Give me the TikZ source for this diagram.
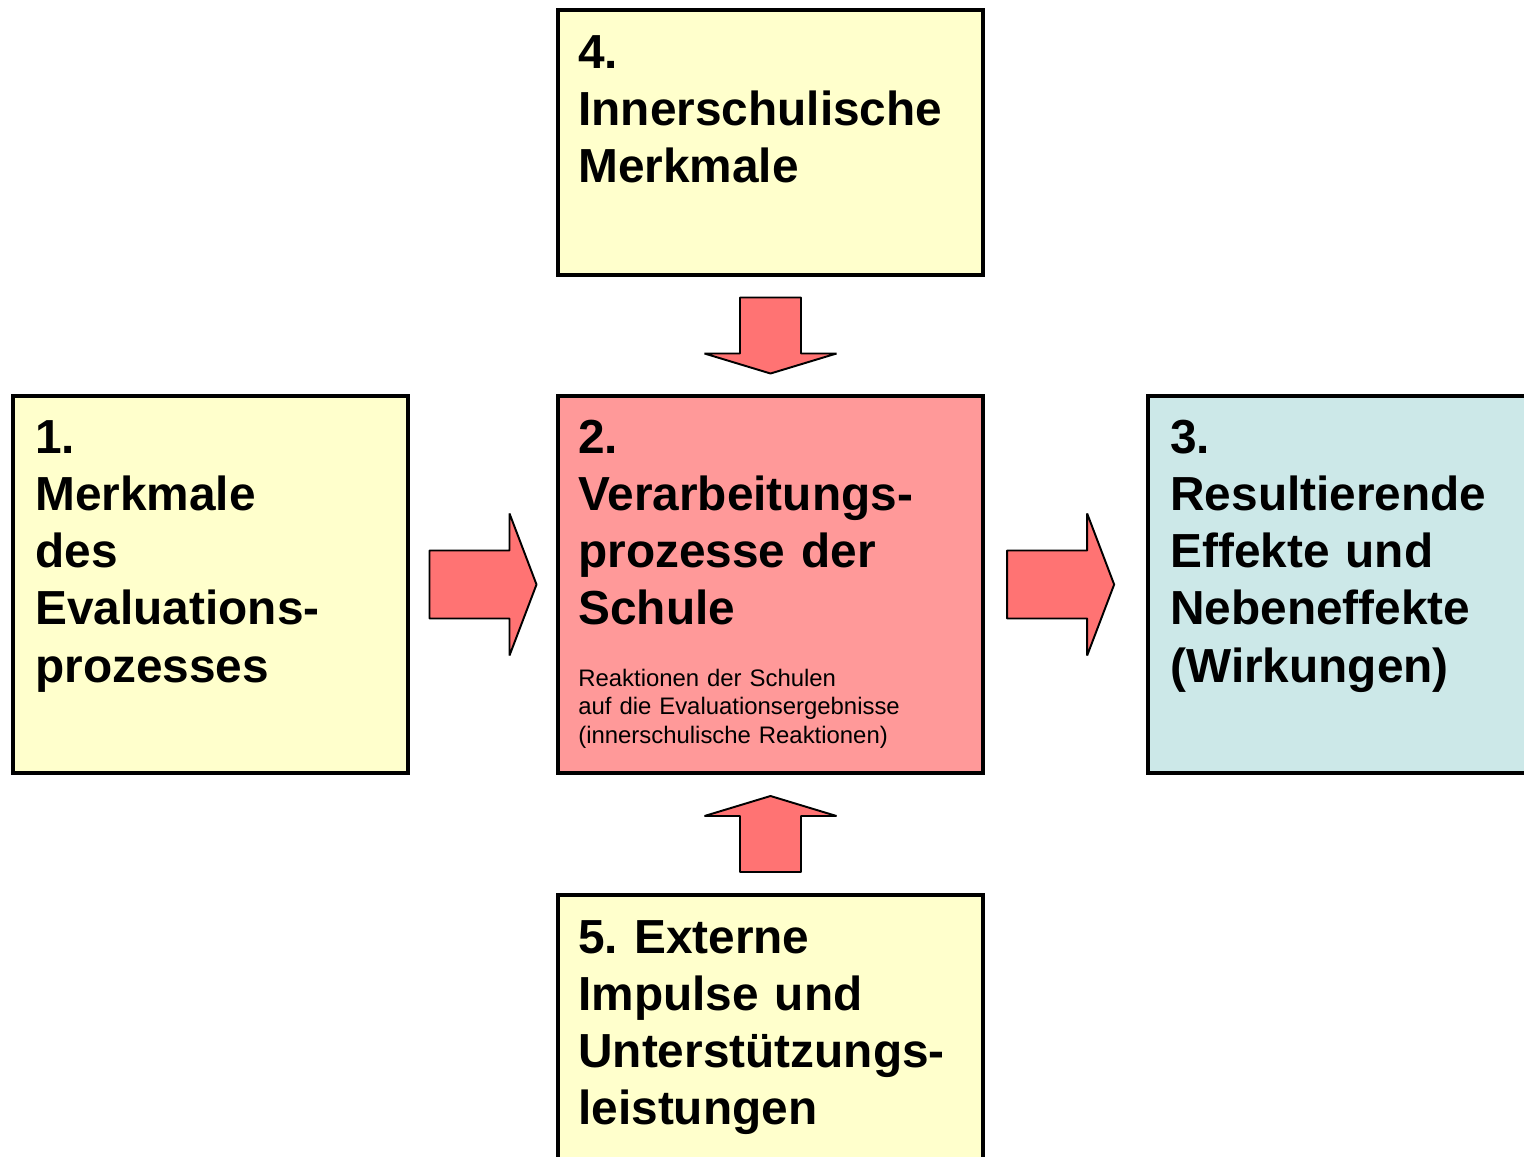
\documentclass[tikz,border=0pt]{standalone}
\usepackage{fontspec}
\setmainfont{Liberation Sans}
\usetikzlibrary{calc}
\frenchspacing

\definecolor{paleyellow}{HTML}{FFFFCC}
\definecolor{palered}{HTML}{FF9999}
\definecolor{arrowred}{HTML}{FF7373}
\definecolor{paleteal}{RGB}{204,232,232}

\tikzset{
  box/.style={draw, line width=2pt, rectangle, inner sep=0pt},
  title/.style={anchor=base west, inner sep=0pt, align=left, text width=#1,
    font=\bfseries\fontsize{27.2}{32.6}\selectfont},
  small/.style={anchor=base west, inner sep=0pt, align=left, text width=8cm,
    font=\fontsize{13.6}{16.4}\selectfont},
  arrowfill/.style={draw, line width=1.1pt, fill=arrowred, line join=bevel}
}

\begin{document}
\begin{tikzpicture}[x=0.02cm,y=-0.02cm]
\tikzset{
  pics/rarrow/.style={code={\draw[arrowfill] (-53.5,-34) -- (26.5,-34) -- (26.5,-71) -- (53.5,0) -- (26.5,71) -- (26.5,34) -- (-53.5,34) -- cycle;}},
  pics/darrow/.style={code={\draw[arrowfill] (-30.5,-38) -- (30.5,-38) -- (30.5,18) -- (66,18) -- (0,38) -- (-66,18) -- (-30.5,18) -- cycle;}}
}
\useasboundingbox (0,0) rectangle (1524,1156);

% boxes
\node[box, fill=paleyellow, minimum width=8.5cm, minimum height=5.3cm] (b4) at (770.5,142.5) {};
\node[box, fill=paleyellow, minimum width=7.9cm, minimum height=7.54cm] (b1) at (210.5,584.5) {};
\node[box, fill=palered, minimum width=8.5cm, minimum height=7.54cm] (b2) at (770.5,584.5) {};
\node[box, fill=paleteal, minimum width=7.64cm, minimum height=7.54cm] (b3) at (1339,584.5) {};
\node[box, fill=paleyellow, minimum width=8.5cm, minimum height=5.7cm] (b5) at (770.5,1037.5) {};

% texts
\node[title=8cm] (t4) at (578,68) {4.\\Innerschulische\\Merkmale};
\node[title=7.5cm] (t1) at (35,453) {1.\\Merkmale\\des\\Evaluations-\\prozesses};
\node[title=8cm] (t2) at (578,453) {2.\\Verarbeitungs-\\prozesse der\\Schule};
\node[small] (t2b) at (578,686) {Reaktionen der Schulen\\auf die Evaluationsergebnisse\\(innerschulische Reaktionen)};
\node[title=7.5cm] (t3) at (1170,453) {3.\\Resultierende\\Effekte und\\Nebeneffekte\\(Wirkungen)};
\node[title=8cm] (t5) at (578,953) {5. Externe\\Impulse und\\Unterstützungs-\\leistungen};

% arrows
\pic at ($(b1.east)!0.5!(b2.west)$) {rarrow};
\pic at ($(b2.east)!0.47!(b3.west)$) {rarrow};
\pic at ($(b4.south)!0.5!(b2.north)$) {darrow};
\pic[rotate=180] at ($(b5.north)!0.5!(b2.south)$) {darrow};
\end{tikzpicture}
\end{document}
